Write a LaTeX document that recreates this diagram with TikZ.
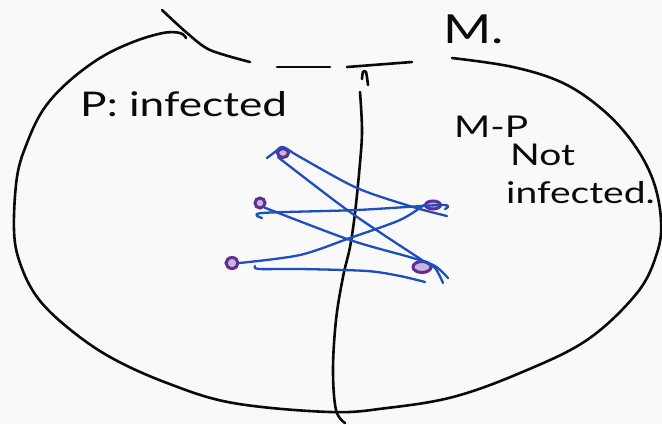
\documentclass[tikz,border=0pt]{standalone}
\usepackage{fontspec}
\setmainfont{Lato}[FakeStretch=1.3]
\usetikzlibrary{shapes.geometric}
\definecolor{bg}{RGB}{249,249,249}
\definecolor{pen}{RGB}{10,10,10}
\definecolor{blueink}{RGB}{28,78,190}
\definecolor{purpleink}{RGB}{96,44,150}
\tikzset{
  ink/.style={draw=pen, line width=2.6pt, line cap=round, line join=round},
  blueline/.style={draw=blueink, line width=2.3pt, line cap=round, line join=round},
  dot/.style={ellipse, draw=purpleink, fill=purpleink!35, line width=3pt, inner sep=0pt},
  hand/.style={inner sep=0pt, anchor=base west, text=pen},
}
\begin{document}
\begin{tikzpicture}[x=1pt,y=-1pt]
\fill[bg] (0,0) rectangle (662,424);
\useasboundingbox (0,0) rectangle (662,424);

% outer region
\draw[ink] plot[smooth, tension=0.6] coordinates {
 (186,38) (180,33) (163,33) (133,42) (100,58) (67,83) (43,110) (27,143)
 (17,177) (14,230) (20,263) (37,297) (67,327) (110,357) (167,383)
 (233,403) (330,412) (387,408) (453,397) (520,373) (587,340) (637,293)
 (657,253) (661,220) (653,180) (633,143) (603,110) (563,83) (513,67) (452,58)};
\draw[ink] plot[smooth] coordinates {(162,10) (187,33) (210,50) (250,62)};
\draw[ink] (277,67) -- (330,67);
\draw[ink] (347,67) -- (412,62);
\draw[ink] plot[smooth] coordinates {(362,79) (363,72) (366,72) (368,85)};

% divider
\draw[ink] plot[smooth, tension=0.6] coordinates {
 (360,92) (362,130) (360,163) (355,213) (350,247) (343,277) (336,320)
 (333,370) (336,410) (345,423)};

% labels
\node[hand, font=\fontsize{34}{34}\selectfont] (lp) at (80,116) {P: infected};
\node[hand, font=\fontsize{40}{40}\selectfont] (lm) at (443,43) {M.};
\node[hand, font=\fontsize{30}{30}\selectfont] (lmp) at (454,137) {M-P};
\node[hand, font=\fontsize{30}{30}\selectfont] (lnot) at (510,165) {Not};
\node[hand, font=\fontsize{30}{30}\selectfont] (linf) at (506,203) {infected.};

% purple points
\node[dot, minimum width=11pt, minimum height=9pt] (d1) at (283,153) {};
\node[dot, minimum width=10pt, minimum height=10pt] (d2) at (260,203) {};
\node[dot, minimum width=12pt, minimum height=11pt] (d3) at (232,263) {};
\node[dot, minimum width=15pt, minimum height=8pt] (d4) at (433,205) {};
\node[dot, minimum width=18pt, minimum height=11pt] (d5) at (422,267) {};

% blue connectors
\coordinate (a1) at (267,158);
\coordinate (a1e) at (447,216);
\draw[blueline] plot[smooth] coordinates {(a1) (275,152) (d1.north) (300,157) (357,188) (413,207) (a1e)};

\coordinate (a2e) at (443,283);
\draw[blueline] plot[smooth] coordinates {(d1.south west) (350,212) (d5.north) (435,268) (a2e)};

\coordinate (a3) at (262,218);
\draw[blueline] plot[smooth] coordinates {(a3) (262,213) (357,210) (d4.east) (445,209)};

\coordinate (a4e) at (448,278);
\draw[blueline] plot[smooth] coordinates {(d2.south east) (350,240) (413,258) (435,266) (a4e)};

\draw[blueline] plot[smooth] coordinates {(d3.east) (300,255) (350,238) (400,220) (d4.west)};

\coordinate (a6) at (255,266);
\coordinate (a6e) at (425,282);
\draw[blueline] plot[smooth] coordinates {(a6) (259,269) (300,269) (367,271) (400,276) (a6e)};
\end{tikzpicture}
\end{document}
